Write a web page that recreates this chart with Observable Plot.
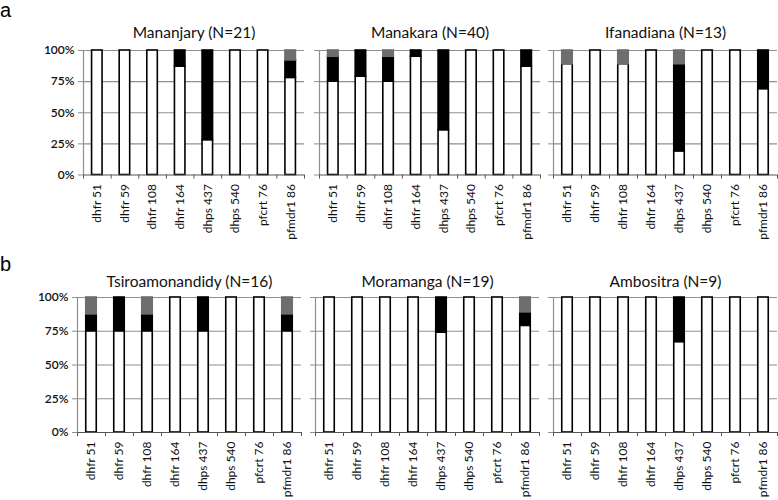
<!DOCTYPE html>
<html><head><meta charset="utf-8">
<script src="https://cdn.jsdelivr.net/npm/d3@7"></script>
<script src="https://cdn.jsdelivr.net/npm/@observablehq/plot@0.6"></script>
<style>
body{margin:0;background:#fff;}
#c{position:relative;width:778px;height:500px;overflow:hidden;background:#fff;}
.p{position:absolute;}
.lab{position:absolute;font-family:"Liberation Sans",Arial,sans-serif;font-size:20px;color:#000;line-height:1;}
</style>
</head><body><div id="c"></div>
<script>
// Categories (x axis)
const markers = ["dhfr 51","dhfr 59","dhfr 108","dhfr 164","dhps 437","dhps 540","pfcrt 76","pfmdr1 86"];
// Panel titles
const titles = ["Mananjary (N=21)","Manakara (N=40)","Ifanadiana (N=13)","Tsiroamonandidy (N=16)","Moramanga (N=19)","Ambositra (N=9)"];
// Y tick values
const yTicks = [0, 25, 50, 75, 100];
// Percentages: white (bottom), black (middle), gray (top)
const mananjaryWhite = [100,100,100,87,28,100,100,78];
const mananjaryBlack = [0,0,0,13,72,0,0,14];
const mananjaryGray  = [0,0,0,0,0,0,0,8];
const manakaraWhite = [75,79,75,95,36,100,100,87];
const manakaraBlack = [20,21,20,5,64,0,0,13];
const manakaraGray  = [5,0,5,0,0,0,0,0];
const ifanadianaWhite = [89,100,89,100,19,100,100,69];
const ifanadianaBlack = [0,0,0,0,70,0,0,31];
const ifanadianaGray  = [11,0,11,0,11,0,0,0];
const tsiroWhite = [75,75,75,100,75,100,100,75];
const tsiroBlack = [12.5,25,12.5,0,25,0,0,12.5];
const tsiroGray  = [12.5,0,12.5,0,0,0,0,12.5];
const moramangaWhite = [100,100,100,100,74,100,100,79];
const moramangaBlack = [0,0,0,0,26,0,0,10];
const moramangaGray  = [0,0,0,0,0,0,0,11];
const ambositraWhite = [100,100,100,100,67,100,100,100];
const ambositraBlack = [0,0,0,0,33,0,0,0];
const ambositraGray  = [0,0,0,0,0,0,0,0];

const statuses = ["white","black","gray"];
const fillOf = {white:"#ffffff", black:"#000000", gray:"#6e6e6e"};
const strokeOf = {white:"#000000", black:"#000000", gray:"#6e6e6e"};

const panels = [
  {title:titles[0], w:mananjaryWhite, b:mananjaryBlack, g:mananjaryGray, row:0, x0:83, x1:304, ml:83, mr:3, labels:true},
  {title:titles[1], w:manakaraWhite, b:manakaraBlack, g:manakaraGray, row:0, x0:319, x1:540, ml:12, mr:3, labels:false},
  {title:titles[2], w:ifanadianaWhite, b:ifanadianaBlack, g:ifanadianaGray, row:0, x0:553, x1:777, ml:10, mr:1, labels:false},
  {title:titles[3], w:tsiroWhite, b:tsiroBlack, g:tsiroGray, row:1, x0:77, x1:301, ml:77, mr:3, labels:true},
  {title:titles[4], w:moramangaWhite, b:moramangaBlack, g:moramangaGray, row:1, x0:315, x1:539, ml:11, mr:3, labels:false},
  {title:titles[5], w:ambositraWhite, b:ambositraBlack, g:ambositraGray, row:1, x0:553, x1:777, ml:11, mr:1, labels:false}
];
const rows = [
  {top:0, height:250, mt:50, mb:75.5, titleDy:-17},
  {top:250, height:250, mt:47, mb:68, titleDy:-15}
];

const container = document.getElementById("c");

for (const p of panels) {
  const r = rows[p.row];
  const plotW = p.x1 - p.x0;
  const step = plotW / markers.length;
  const barW = 10.5;
  const inset = (step - barW) / 2;
  const data = markers.flatMap((m, i) => [
    {marker:m, status:"white", value:p.w[i]},
    {marker:m, status:"black", value:p.b[i]},
    {marker:m, status:"gray", value:p.g[i]}
  ]);
  const chart = Plot.plot({
    width: p.ml + plotW + p.mr,
    height: r.height,
    marginLeft: p.ml, marginRight: p.mr, marginTop: r.mt, marginBottom: r.mb,
    style: {fontFamily:"Lato, 'Open Sans', sans-serif", fontSize:"12px", color:"#111", background:"transparent", overflow:"visible"},
    x: {domain: markers, padding: 0, round: false, axis: null},
    y: {domain: [0, 100], axis: null},
    color: {type: "identity"},
    marks: [
      Plot.ruleY([25, 50, 75, 100], {stroke:"#8f8f8f", strokeWidth:1.2}),
      Plot.axisY({ticks: yTicks, tickSize: 5, tickPadding: 4, stroke:"#8f8f8f",
        tickFormat: p.labels ? (d => d + "%") : (() => ""), label: null, fontSize: 12, fontWeight: 600}),
      Plot.ruleX([markers[0]], {dx: -step/2, y1: 0, y2: 100, stroke:"#8f8f8f", strokeWidth:1.2}),
      Plot.barY(data, {
        x: "marker", y: "value", z: "status", order: statuses,
        filter: d => d.value > 0,
        fill: d => fillOf[d.status], stroke: d => strokeOf[d.status], strokeWidth: 1.6,
        insetLeft: inset, insetRight: inset
      }),
      Plot.ruleY([0], {stroke:"#555", strokeWidth:1.2}),
      Plot.ruleX(markers, {dx: -step/2, y1: 0, y2: 0, insetBottom: -4, stroke:"#555"}),
      Plot.ruleX([markers[markers.length-1]], {dx: step/2, y1: 0, y2: 0, insetBottom: -4, stroke:"#555"}),
      Plot.axisX({tickRotate: -90, tickSize: 0, tickPadding: 9, label: null, fontSize: 12, fill:"#111"}),
      Plot.text([p.title], {frameAnchor: "top", lineAnchor: "middle", dy: r.titleDy, fontSize: 15.5, fill: "#111"})
    ]
  });
  chart.classList.add("p");
  chart.style.left = (p.x0 - p.ml) + "px";
  chart.style.top = r.top + "px";
  container.appendChild(chart);
}

const la = document.createElement("div");
la.className = "lab"; la.textContent = "a";
la.style.left = "0px"; la.style.top = "0px";
container.appendChild(la);
const lb = document.createElement("div");
lb.className = "lab"; lb.textContent = "b";
lb.style.left = "0px"; lb.style.top = "254px";
container.appendChild(lb);
</script>
</body></html>
